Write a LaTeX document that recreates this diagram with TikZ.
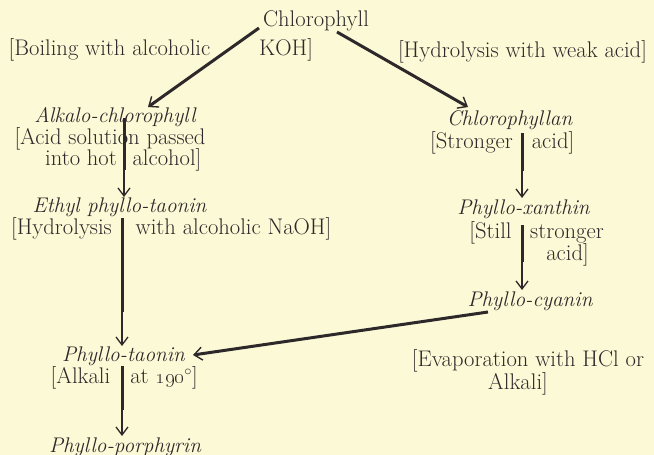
\documentclass[tikz,border=0pt]{standalone}
\usetikzlibrary{arrows.meta}
\definecolor{paper}{RGB}{252,250,214}
\definecolor{ink}{RGB}{45,40,42}
\begin{document}
\begin{tikzpicture}[x=1pt,y=-1pt,
  txt/.style={anchor=base,inner sep=0pt,text=ink,font=\fontsize{22.6}{26}\selectfont},
  itx/.style={txt,font=\fontsize{21.2}{25}\selectfont\itshape},
  heavy/.style={draw=ink,line width=3pt},
  lite/.style={draw=ink,line width=1.3pt,-{Straight Barb[length=8pt,width=12pt,line width=1.3pt]}},
  heavyarr/.style={draw=ink,line width=3pt,-{Straight Barb[length=8pt,width=13pt,line width=1.4pt]}}]
\useasboundingbox (0,0) rectangle (654,455);
\fill[paper] (0,0) rectangle (654,455);
% text
\node[txt] (chl) at (316,27) {Chlorophyll};
\node[txt] (boil) at (109.5,55) {[Boiling with alcoholic};
\node[txt] (koh) at (286,55) {KOH]};
\node[txt] (hyd) at (522.5,57) {[Hydrolysis with weak acid]};
\node[itx] (alk) at (115,122) {Alkalo-chlorophyll};
\node[txt] (acid1) at (110,144) {[Acid solution passed};
\node[txt] (into) at (81,165) {into hot};
\node[txt] (alc) at (167,165) {alcohol]};
\node[itx] (eth) at (119.5,212) {Ethyl phyllo-taonin};
\node[txt] (hyd2) at (61.5,234) {[Hydrolysis};
\node[txt] (naoh) at (233.5,234) {with alcoholic NaOH]};
\node[itx] (pta) at (123.5,361) {Phyllo-taonin};
\node[txt] (alk2) at (80.5,383) {[Alkali};
\node[txt] (at190) at (164,383) {at \oldstylenums{190}$^\circ$]};
\node[itx] (ppo) at (125,452) {Phyllo-porphyrin};
\node[itx] (chn) at (509.5,125) {Chlorophyllan};
\node[txt] (str) at (471.5,148) {[Stronger};
\node[txt] (acid2) at (553,148) {acid]};
\node[itx] (pxa) at (523.5,214) {Phyllo-xanthin};
\node[txt] (still) at (490.5,238) {[Still};
\node[txt] (stronger) at (567,238) {stronger};
\node[txt] (acid3) at (567.5,260) {acid]};
\node[itx] (pcy) at (530,306) {Phyllo-cyanin};
\node[txt] (evap) at (528,366) {[Evaporation with HCl or};
\node[txt] (alkali) at (518,389) {Alkali]};
% connector points
\coordinate (d1a) at (259,28);  \coordinate (d1b) at (148,107);
\coordinate (d2a) at (337,32);  \coordinate (d2b) at (468,107);
\coordinate (v1a) at (124,118); \coordinate (v1m) at (124,170); \coordinate (v1b) at (124,197);
\coordinate (v2a) at (122,218); \coordinate (v2m) at (122,312); \coordinate (v2b) at (122,346);
\coordinate (v3a) at (122,366); \coordinate (v3m) at (122,410); \coordinate (v3b) at (122,436);
\coordinate (r1a) at (522,133); \coordinate (r1m) at (522,171); \coordinate (r1b) at (522,198);
\coordinate (r2a) at (522,225); \coordinate (r2m) at (522,262); \coordinate (r2b) at (522,290);
\coordinate (la) at (488,312);  \coordinate (lb) at (193,355);
% connectors
\draw[heavyarr] (d1a) -- (d1b);
\draw[heavyarr] (d2a) -- (d2b);
\draw[heavyarr] (la) -- (lb);
\draw[heavy] (v1a) -- (v1m); \draw[lite] (v1m) -- (v1b);
\draw[heavy] (v2a) -- (v2m); \draw[lite] (v2m) -- (v2b);
\draw[heavy] (v3a) -- (v3m); \draw[lite] (v3m) -- (v3b);
\draw[heavy] (r1a) -- (r1m); \draw[lite] (r1m) -- (r1b);
\draw[heavy] (r2a) -- (r2m); \draw[lite] (r2m) -- (r2b);
\end{tikzpicture}
\end{document}
